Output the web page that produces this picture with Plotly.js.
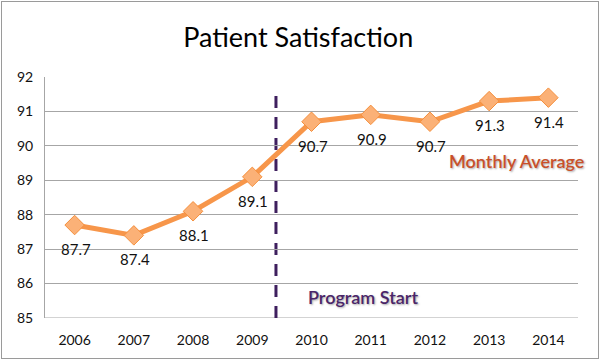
<!DOCTYPE html>
<html>
<head>
<meta charset="utf-8">
<script src="https://cdn.plot.ly/plotly-3.0.1.min.js"></script>
<style>
html,body{margin:0;padding:0;background:#fff;}
#wrap{position:relative;width:600px;height:361px;}
#chart{width:600px;height:361px;}
#frame{position:absolute;left:1px;top:1px;width:596px;height:356px;border:1.5px solid #9a9a9a;pointer-events:none;}
</style>
</head>
<body>
<div id="wrap"><div id="chart"></div><div id="frame"></div></div>
<script>
const years = ['2006','2007','2008','2009','2010','2011','2012','2013','2014'];
const satisfaction = [87.7, 87.4, 88.1, 89.1, 90.7, 90.9, 90.7, 91.3, 91.4];
const yTicks = [85, 86, 87, 88, 89, 90, 91, 92];
const programStartX = 3.4;
const programStartTop = 91.55;

const FONT = 'Lato, "Open Sans", sans-serif';

const trace = {
  x: years.map((_, i) => i),
  y: satisfaction,
  type: 'scatter',
  mode: 'lines+markers',
  line: {color: '#F7964A', width: 5},
  marker: {symbol: 'diamond', size: 15, color: '#FBB177', line: {color: '#F58F3C', width: 1}},
  hoverinfo: 'skip',
  cliponaxis: false
};

const labelAnns = satisfaction.map((v, i) => ({
  x: i, y: v, xref: 'x', yref: 'y',
  text: v.toFixed(1), showarrow: false,
  yshift: -24, xshift: 1,
  font: {family: FONT, size: 15, color: '#111'}
}));

const layout = {
  width: 600, height: 361,
  margin: {l: 45, r: 22, t: 77, b: 43},
  paper_bgcolor: '#fff', plot_bgcolor: '#fff',
  showlegend: false,
  title: {text: 'Patient Satisfaction', x: 0.497, xanchor: 'center', y: 0.895, yanchor: 'middle',
          font: {family: FONT, size: 27, color: '#000'}},
  xaxis: {
    range: [-0.5, 8.5], tickvals: years.map((_, i) => i), ticktext: years,
    showgrid: false, zeroline: false, showline: false, ticks: '',
    tickfont: {family: FONT, size: 14, color: '#111'}, ticklabelstandoff: 12
  },
  yaxis: {
    range: [85, 92], tickvals: yTicks, ticktext: yTicks.map(String),
    showgrid: true, gridcolor: '#a6a6a6', gridwidth: 1,
    zeroline: false, showline: true, linecolor: '#a6a6a6', linewidth: 1, ticks: '',
    tickfont: {family: FONT, size: 14, color: '#111'}, ticklabelstandoff: 8
  },
  shapes: [
    {type: 'line', xref: 'paper', yref: 'y', x0: 0, x1: 1, y0: 85, y1: 85, line: {color: '#a6a6a6', width: 1}, layer: 'below'},
    {type: 'line', xref: 'x', yref: 'y', x0: programStartX, x1: programStartX, y0: 85, y1: programStartTop,
     line: {color: '#3E1F5E', width: 3, dash: '12px,9px'}, layer: 'below'}
  ],
  annotations: labelAnns.concat([
    {xref: 'x', yref: 'y', x: 6.28, y: 89.57, xanchor: 'left', yanchor: 'middle', showarrow: false,
     text: 'Monthly Average', font: {family: FONT, size: 18, weight: 600, color: '#C9502A', shadow: '1px 1px 2px rgba(0,0,0,0.35)'}},
    {xref: 'x', yref: 'y', x: 3.9, y: 85.62, xanchor: 'left', yanchor: 'middle', showarrow: false,
     text: 'Program Start', font: {family: FONT, size: 18, weight: 600, color: '#4A2569', shadow: '1px 1px 2px rgba(0,0,0,0.35)'}}
  ])
};

Plotly.newPlot('chart', [trace], layout, {displayModeBar: false, staticPlot: true});
</script>
</body>
</html>
